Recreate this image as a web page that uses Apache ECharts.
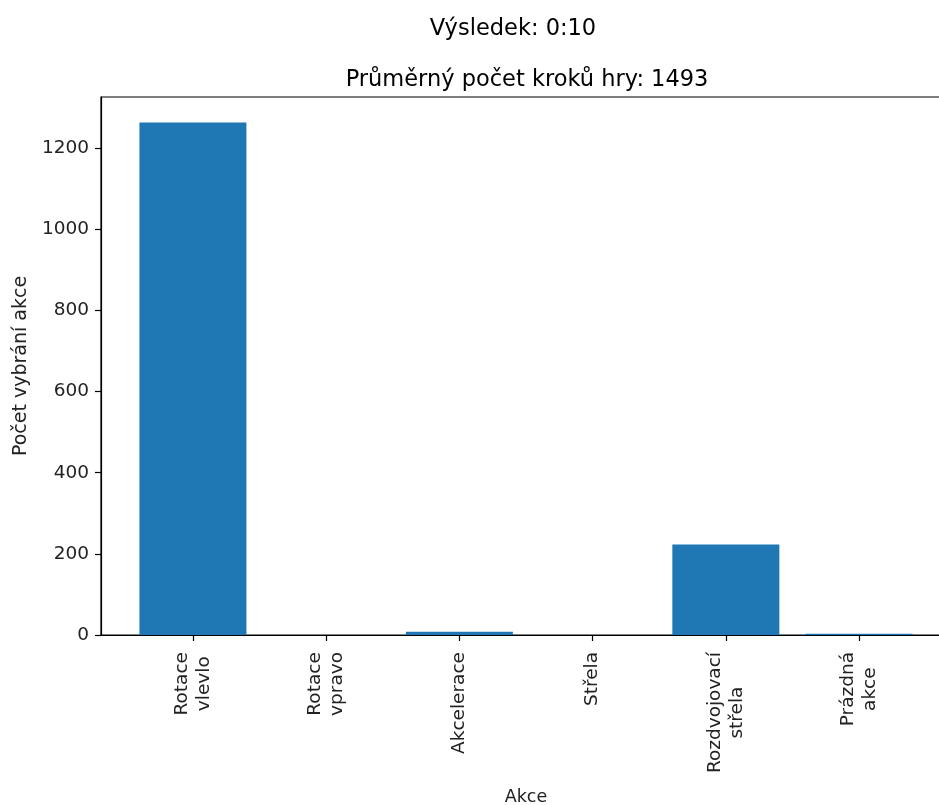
<!DOCTYPE html>
<html><head><meta charset="utf-8">
<script src="https://cdn.jsdelivr.net/npm/echarts@6/dist/echarts.min.js"></script>
<style>html,body{margin:0;padding:0;background:#fff}#c{width:939px;height:805px}</style>
</head><body><div id="c"></div>
<script>
const categories = ["Rotace\nvlevlo", "Rotace\nvpravo", "Akcelerace", "Střela", "Rozdvojovací\nstřela", "Prázdná\nakce"];
const counts = [1263, 0, 8, 0, 223, 3];
const yTicks = [0, 200, 400, 600, 800, 1000, 1200];
const xTicks = [0, 1, 2, 3, 4, 5];
const suptitle = "Výsledek: 0:10";
const axTitle = "Průměrný počet kroků hry: 1493";

const font = "DejaVu Sans";
const tickSize = 18.5;
const chart = echarts.init(document.getElementById('c'), null, {renderer: 'canvas'});
chart.setOption({
  animation: false,
  backgroundColor: '#fff',
  textStyle: {fontFamily: font},
  title: [
    {text: suptitle, left: 508, top: 13, textAlign: 'center', textStyle: {fontFamily: font, fontSize: 22.5, fontWeight: 'normal', color: '#000'}},
    {text: axTitle, left: 522, top: 64, textAlign: 'center', textStyle: {fontFamily: font, fontSize: 22.5, fontWeight: 'normal', color: '#000'}}
  ],
  grid: {left: 101, top: 97, width: 850, height: 538, show: true, borderColor: '#000', borderWidth: 1.2, backgroundColor: 'transparent', containLabel: false, outerBoundsMode: 'none'},
  xAxis: {
    type: 'value', min: -0.69, max: 5.69,
    splitLine: {show: false},
    axisLine: {show: true, onZero: false, lineStyle: {color: '#000', width: 1.2}},
    axisTick: {show: true, length: 6, lineStyle: {color: '#000', width: 1.2}, customValues: xTicks},
    axisLabel: {
      show: true, rotate: 90, margin: 17, color: '#222', fontSize: tickSize, fontFamily: font, lineHeight: 22,
      customValues: xTicks,
      formatter: v => categories[Math.round(v)].split('\n').map(s => '{c|' + s + '}').join('\n'),
      rich: {c: {align: 'center', fontSize: tickSize, fontFamily: font, color: '#222', lineHeight: 22}}
    },
    name: 'Akce', nameLocation: 'middle', nameGap: 153,
    nameTextStyle: {fontSize: 17.5, fontFamily: font, color: '#222'}
  },
  yAxis: {
    type: 'value', min: 0, max: 1326,
    splitLine: {show: false},
    axisLine: {show: true, onZero: false, lineStyle: {color: '#000', width: 1.2}},
    axisTick: {show: true, length: 6, lineStyle: {color: '#000', width: 1.2}, customValues: yTicks},
    axisLabel: {show: true, margin: 12, color: '#222', fontSize: tickSize, fontFamily: font, customValues: yTicks, formatter: v => String(v)},
    name: 'Počet vybrání akce', nameLocation: 'middle', nameGap: 70, nameRotate: 90,
    nameTextStyle: {fontSize: 19, fontFamily: font, color: '#222'}
  },
  series: [{
    type: 'bar',
    data: counts.map((v, i) => [i, v]),
    barWidth: 107,
    itemStyle: {color: '#1f77b4'}
  }]
});
</script></body></html>
